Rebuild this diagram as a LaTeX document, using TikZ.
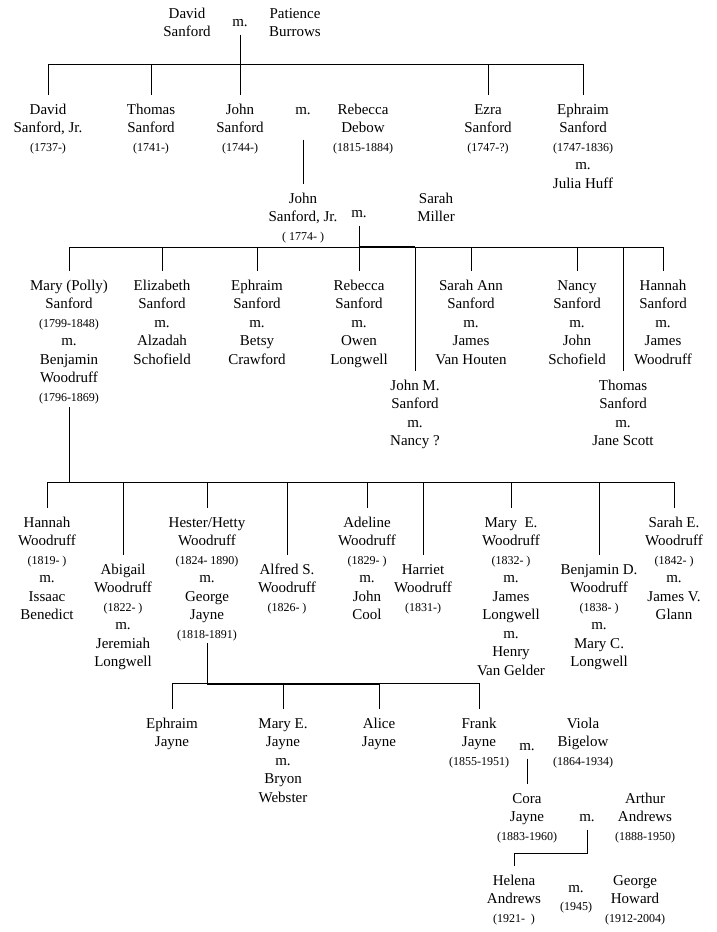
\documentclass[tikz,border=0pt]{standalone}
\usepackage{fontspec}
\setmainfont{Liberation Serif}
\newcommand{\who}[1]{\begin{tabular}[t]{@{}c@{}}#1\end{tabular}}
\newcommand{\yr}[1]{{\fontsize{12}{18.5}\selectfont #1}}

\begin{document}
\begin{tikzpicture}[x=1pt, y=-1pt, line width=0.9pt,
		every node/.style={font=\fontsize{15}{18.5}\selectfont},
		person/.style={anchor=base, inner xsep=0pt, inner ysep=6pt},
		wed/.style={anchor=base, inner xsep=0pt, inner ysep=8pt}]
	\useasboundingbox (0,0) rectangle (716,932);

	% David Sanford and Patience Burrows
	\node[person] (ds) at (187,18) {\who{David\\Sanford}};
	\node[wed] (m0) at (240,26) {m.};
	\node[person] (pb) at (295,18) {\who{Patience\\Burrows}};

	\node[person] (dsj) at (48,114) {\who{David\\Sanford, Jr.\\\yr{(1737-)}}};
	\node[person] (ts) at (151,114) {\who{Thomas\\Sanford\\\yr{(1741-)}}};
	\node[person] (js) at (240,114) {\who{John\\Sanford\\\yr{(1744-)}}};
	\node[wed] (m1) at (303,114) {m.};
	\node[person] (rd) at (363,114) {\who{Rebecca\\Debow\\\yr{(1815-1884)}}};
	\node[person] (ez) at (488,114) {\who{Ezra\\Sanford\\\yr{(1747-?)}}};
	\node[person] (eps) at (583,114) {\who{Ephraim\\Sanford\\\yr{(1747-1836)}\\m.\\Julia Huff}};

	% John Sanford, Jr. and Sarah Miller
	\node[person] (jsj) at (303,203) {\who{John\\Sanford, Jr.\\\yr{( 1774- )}}};
	\node[wed] (m2) at (359,217) {m.};
	\node[person] (sm) at (436,203) {\who{Sarah\\Miller}};

	\node[person] (mps) at (69,290) {\who{Mary (Polly)\\Sanford\\\yr{(1799-1848)}\\m.\\Benjamin\\Woodruff\\\yr{(1796-1869)}}};
	\node[person] (els) at (162,290) {\who{Elizabeth\\Sanford\\m.\\Alzadah\\Schofield}};
	\node[person] (ephs) at (257,290) {\who{Ephraim\\Sanford\\m.\\Betsy\\Crawford}};
	\node[person] (rbs) at (359,290) {\who{Rebecca\\Sanford\\m.\\Owen\\Longwell}};
	\node[person] (jms) at (415,390) {\who{John M.\\Sanford\\m.\\Nancy ?}};
	\node[person] (sas) at (471,290) {\who{Sarah Ann\\Sanford\\m.\\James\\Van Houten}};
	\node[person] (ns) at (577,290) {\who{Nancy\\Sanford\\m.\\John\\Schofield}};
	\node[person] (tms) at (623,390) {\who{Thomas\\Sanford\\m.\\Jane Scott}};
	\node[person] (hs) at (663,290) {\who{Hannah\\Sanford\\m.\\James\\Woodruff}};

	% children of Mary and Benjamin Woodruff
	\node[person] (hw) at (47,527) {\who{Hannah\\Woodruff\\\yr{(1819- )}\\m.\\Issaac\\Benedict}};
	\node[person] (aw) at (123,574) {\who{Abigail\\Woodruff\\\yr{(1822- )}\\m.\\Jeremiah\\Longwell}};
	\node[person] (hhw) at (207,527) {\who{Hester/Hetty\\Woodruff\\\yr{(1824- 1890)}\\m.\\George\\Jayne\\\yr{(1818-1891)}}};
	\node[person] (asw) at (287,574) {\who{Alfred S.\\Woodruff\\\yr{(1826- )}}};
	\node[person] (adw) at (367,527) {\who{Adeline\\Woodruff\\\yr{(1829- )}\\m.\\John\\Cool}};
	\node[person] (haw) at (423,574) {\who{Harriet\\Woodruff\\\yr{(1831-)}}};
	\node[person] (mew) at (511,527) {\who{Mary~~E.\\Woodruff\\\yr{(1832- )}\\m.\\James\\Longwell\\m.\\Henry\\Van Gelder}};
	\node[person] (bdw) at (599,574) {\who{Benjamin D.\\Woodruff\\\yr{(1838- )}\\m.\\Mary C.\\Longwell}};
	\node[person] (sew) at (674,527) {\who{Sarah E.\\Woodruff\\\yr{(1842- )}\\m.\\James V.\\Glann}};

	% children of Hester and George Jayne
	\node[person] (ej) at (172,728) {\who{Ephraim\\Jayne}};
	\node[person] (mej) at (283,728) {\who{Mary E.\\Jayne\\m.\\Bryon\\Webster}};
	\node[person] (aj) at (379,728) {\who{Alice\\Jayne}};
	\node[person] (fj) at (479,728) {\who{Frank\\Jayne\\\yr{(1855-1951)}}};
	\node[wed] (m3) at (527,750) {m.};
	\node[person] (vb) at (583,728) {\who{Viola\\Bigelow\\\yr{(1864-1934)}}};

	\node[person] (cj) at (527,803) {\who{Cora\\Jayne\\\yr{(1883-1960)}}};
	\node[wed] (m4) at (587,821) {m.};
	\node[person] (aa) at (645,803) {\who{Arthur\\Andrews\\\yr{(1888-1950)}}};

	\node[person] (ha) at (514,885) {\who{Helena\\Andrews\\\yr{(1921-\ \ )}}};
	\node[wed] (m5) at (576,892) {\who{m.\\\yr{(1945)}}};
	\node[person] (gh) at (635,885) {\who{George\\Howard\\\yr{(1912-2004)}}};

	% connectors
	\coordinate (bus0) at (0,64);
	\draw (m0.south) -- (m0.south |- bus0);
	\draw (dsj.north |- bus0) -- (eps.north |- bus0);
	\foreach \c in {dsj,ts,js,ez,eps}
		\draw (\c.north |- bus0) -- (\c.north);

	\draw ([yshift=-17pt]m1.south) -- (jsj.north);

	\coordinate (bus2) at (0,247);
	\draw (m2.south) |- ([yshift=1pt]jms.north |- bus2);
	\draw (mps.north |- bus2) -- (hs.north |- bus2);
	\foreach \c in {mps,els,ephs,rbs,jms,sas,ns,tms,hs}
		\draw (\c.north |- bus2) -- (\c.north);

	\coordinate (bus3) at (0,482);
	\draw ([yshift=6pt]mps.south) -- (mps.south |- bus3);
	\draw (hw.north |- bus3) -- (sew.north |- bus3);
	\foreach \c in {hw,aw,hhw,asw,adw,haw,mew,bdw,sew}
		\draw (\c.north |- bus3) -- (\c.north);

	\coordinate (bus4) at (0,683);
	\draw ([yshift=7pt]hhw.south) |- ([yshift=-1pt]aj.north |- bus4);
	\draw (ej.north |- bus4) -- (fj.north |- bus4);
	\foreach \c in {ej,mej,aj,fj}
		\draw (\c.north |- bus4) -- (\c.north);

	\draw (m3.south) -- (cj.north);

	\coordinate (bus5) at (0,853);
	\draw (m4.south) |- (ha.north |- bus5) -- (ha.north);
\end{tikzpicture}
\end{document}
